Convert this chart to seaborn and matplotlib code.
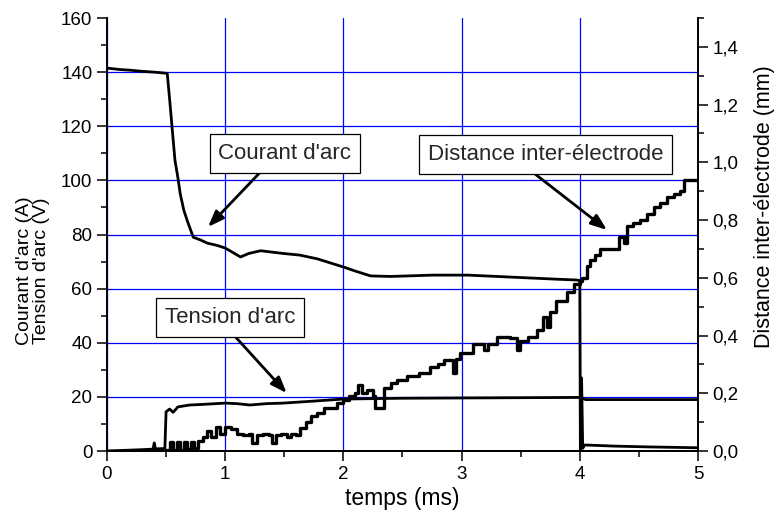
import numpy as np
import pandas as pd
import seaborn as sns
import matplotlib.pyplot as plt
from matplotlib.ticker import MultipleLocator, FuncFormatter

# Arc current (A)
t_current = [0, 0.1, 0.2, 0.3, 0.4, 0.5, 0.51, 0.53, 0.55, 0.575, 0.6, 0.62, 0.65,
             0.68, 0.73, 0.79, 0.85, 0.93, 1.0, 1.13, 1.2, 1.3, 1.49, 1.63, 1.78,
             2.0, 2.1, 2.23, 2.4, 2.76, 3.05, 3.3, 3.6, 3.8, 3.97, 4.0, 4.005,
             4.015, 4.025, 4.04, 4.06, 4.3, 4.6, 5.0]
current = [141.5, 141, 140.7, 140.3, 140, 139.6, 139.5, 130, 120, 107.5, 101, 95, 89,
           85, 79, 78, 76.8, 76, 75, 71.7, 73, 74, 73, 72.4, 71,
           68, 66.5, 64.7, 64.5, 65, 65, 64.5, 63.9, 63.5, 63.2, 63, 0,
           27, 1, 2.2, 2.2, 1.8, 1.5, 1.2]

# Arc voltage (V)
t_voltage = [0, 0.3, 0.39, 0.4, 0.41, 0.48, 0.49, 0.5, 0.53, 0.56, 0.6, 0.7, 0.8,
             1.0, 1.1, 1.21, 1.35, 1.49, 1.7, 2.0, 2.5, 3.0, 3.5, 3.99, 4.0,
             4.05, 4.5, 5.0]
voltage = [0, 0.5, 0.7, 3, 0.8, 0.9, 1, 14.5, 15.5, 14.3, 16.3, 17, 17.2,
           17.7, 17.5, 17, 17.5, 17.7, 18.3, 19.2, 19.5, 19.6, 19.7, 19.8, 19.8,
           19.0, 19.0, 19.0]

# Inter-electrode distance (mm)
t_distance = [0, 0.5, 0.53, 0.56, 0.59, 0.62, 0.65, 0.68, 0.71, 0.74, 0.77, 0.81,
              0.85, 0.88, 0.92, 0.96, 1.0, 1.05, 1.1, 1.15, 1.2, 1.23, 1.27, 1.32,
              1.37, 1.4, 1.43, 1.47, 1.52, 1.56, 1.6, 1.63, 1.68, 1.73, 1.78, 1.84,
              1.89, 1.95, 2.0, 2.05, 2.1, 2.12, 2.16, 2.2, 2.25, 2.27, 2.34, 2.4,
              2.45, 2.54, 2.64, 2.73, 2.8, 2.85, 2.93, 2.95, 2.99, 3.1, 3.19, 3.22,
              3.3, 3.41, 3.47, 3.49, 3.56, 3.64, 3.69, 3.72, 3.75, 3.8, 3.89, 3.95,
              4.0, 4.02, 4.06, 4.09, 4.13, 4.17, 4.28, 4.33, 4.37, 4.4, 4.45, 4.51,
              4.57, 4.63, 4.68, 4.74, 4.8, 4.85, 4.88, 5.0]
distance = [0, 0.003, 0.03, 0.005, 0.03, 0.005, 0.03, 0.008, 0.03, 0.01, 0.035, 0.05,
            0.07, 0.05, 0.083, 0.06, 0.083, 0.075, 0.06, 0.055, 0.06, 0.028, 0.055, 0.06,
            0.055, 0.028, 0.055, 0.06, 0.05, 0.06, 0.055, 0.08, 0.1, 0.12, 0.13, 0.15,
            0.15, 0.166, 0.175, 0.19, 0.2, 0.23, 0.2, 0.21, 0.19, 0.15, 0.22, 0.235,
            0.245, 0.26, 0.27, 0.29, 0.3, 0.315, 0.27, 0.32, 0.34, 0.37, 0.35, 0.37,
            0.395, 0.39, 0.35, 0.38, 0.395, 0.42, 0.465, 0.43, 0.48, 0.52, 0.55, 0.58,
            0.59, 0.6, 0.64, 0.66, 0.68, 0.7, 0.7, 0.74, 0.72, 0.78, 0.79, 0.8,
            0.82, 0.845, 0.86, 0.88, 0.89, 0.9, 0.94, 0.94]

df_i = pd.DataFrame({"t": t_current, "v": current})
df_u = pd.DataFrame({"t": t_voltage, "v": voltage})
df_d = pd.DataFrame({"t": t_distance, "v": distance})

sns.set_theme(style="ticks")
plt.rcParams['font.family'] = ['Liberation Sans', 'DejaVu Sans']

fig = plt.figure(figsize=(7.74, 5.19), dpi=100)
ax = fig.add_axes([0.1382, 0.131, 0.7636, 0.8343])
ax2 = ax.twinx()

sns.lineplot(data=df_i, x="t", y="v", ax=ax, color="black", linewidth=2,
             estimator=None, sort=False)
sns.lineplot(data=df_u, x="t", y="v", ax=ax, color="black", linewidth=2,
             estimator=None, sort=False)
sns.lineplot(data=df_d, x="t", y="v", ax=ax2, color="black", linewidth=2.4,
             estimator=None, sort=False, drawstyle="steps-post")

ax.set_xlim(0, 5)
ax.set_ylim(0, 160)
ax2.set_ylim(0, 1.5)

ax.xaxis.set_major_locator(MultipleLocator(1))
ax.xaxis.set_minor_locator(MultipleLocator(0.5))
ax.yaxis.set_major_locator(MultipleLocator(20))
ax.yaxis.set_minor_locator(MultipleLocator(10))
ax2.yaxis.set_major_locator(MultipleLocator(0.2))
ax2.yaxis.set_minor_locator(MultipleLocator(0.1))
ax2.yaxis.set_major_formatter(FuncFormatter(lambda v, p: f"{v:.1f}".replace('.', ',')))

# blue grid from the left axis
ax.set_axisbelow(True)
ax.grid(True, which="major", color="#0000ff", linewidth=0.9)
for tk in ax.yaxis.get_major_ticks():
    if tk.get_loc() >= 160:
        tk.gridline.set_visible(False)

for a in (ax, ax2):
    a.spines["top"].set_visible(False)
    for s in a.spines.values():
        s.set_linewidth(1.4)
        s.set_color("black")
ax.spines["right"].set_visible(False)
ax2.spines["left"].set_visible(False)

for a in (ax, ax2):
    a.tick_params(which="major", length=7, width=1.1, color="black",
                  labelsize=13.5, labelcolor="black", direction="out")
    a.tick_params(which="minor", length=4.5, width=1.1, color="black", direction="out")

ax.set_xlabel("temps (ms)", fontsize=16.5, color="black")
ax.set_ylabel("Courant d'arc (A)\nTension d'arc (V)", fontsize=14, color="black",
              linespacing=1.05)
ax2.set_ylabel("Distance inter-électrode (mm)", fontsize=15.5, color="black")
ax.xaxis.set_label_coords(0.5, -0.082)
ax.yaxis.set_label_coords(-0.096, 0.416)
ax2.yaxis.set_label_coords(1.094, 0.565)

box = dict(boxstyle="square,pad=0.4", fc="white", ec="black", lw=0.9)
arrow = dict(arrowstyle="-|>,head_length=0.8,head_width=0.3", color="black",
             lw=2, shrinkA=0, shrinkB=0)
ax.annotate("", xy=(0.855, 82.8), xytext=(1.29, 102.7), arrowprops=arrow)
ax.annotate("", xy=(4.23, 81.7), xytext=(3.62, 102.4), arrowprops=arrow)
ax.annotate("", xy=(1.52, 21.4), xytext=(1.08, 42.5), arrowprops=arrow)
ax.text(1.506, 110, "Courant d'arc", fontsize=16, ha="center", va="center", bbox=box)
ax.text(3.71, 109.6, "Distance inter-électrode", fontsize=16, ha="center",
        va="center", bbox=box)
ax.text(1.04, 49.2, "Tension d'arc", fontsize=16, ha="center", va="center", bbox=box)

fig.savefig("out.png", dpi=100)
